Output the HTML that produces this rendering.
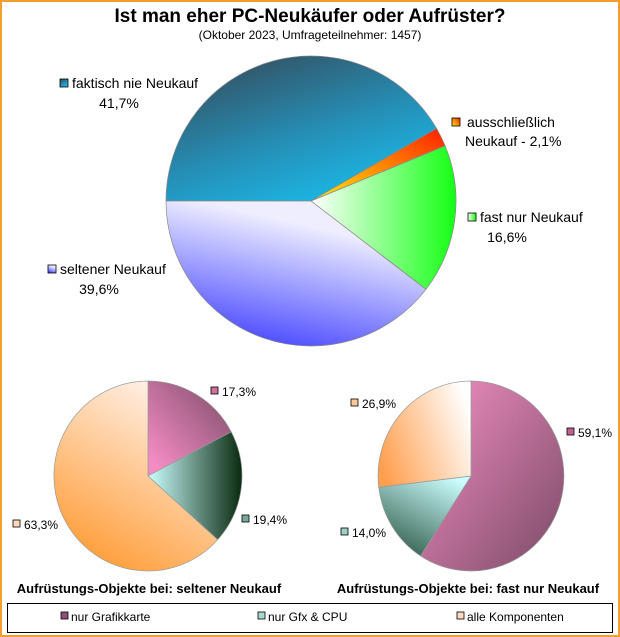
<!DOCTYPE html>
<html><head><meta charset="utf-8"><style>
html,body{margin:0;padding:0;background:#fff}
svg{display:block;font-family:"Liberation Sans",sans-serif}
</style></head><body>
<svg width="620" height="637" viewBox="0 0 620 637" xmlns="http://www.w3.org/2000/svg">
<defs>
<linearGradient id="gBlue" x1="0.2" y1="0" x2="0.8" y2="1"><stop offset="0" stop-color="#344e5e"/><stop offset="0.55" stop-color="#2590b8"/><stop offset="1" stop-color="#18c0ee"/></linearGradient>
<linearGradient id="gOr" x1="0" y1="1" x2="1" y2="0"><stop offset="0" stop-color="#ffee00"/><stop offset="1" stop-color="#ff2000"/></linearGradient>
<linearGradient id="gGr" x1="0" y1="0" x2="1" y2="0"><stop offset="0" stop-color="#ffffff"/><stop offset="1" stop-color="#14ff14"/></linearGradient>
<linearGradient id="gLav" x1="0.7" y1="0" x2="0.3" y2="1"><stop offset="0.2" stop-color="#eeeeff"/><stop offset="1" stop-color="#4444ff"/></linearGradient>
<linearGradient id="gPink" x1="0" y1="1" x2="1" y2="0"><stop offset="0.1" stop-color="#f48cc4"/><stop offset="1" stop-color="#7a4a66"/></linearGradient>
<linearGradient id="gTeal" x1="0" y1="0" x2="1" y2="0"><stop offset="0" stop-color="#ccffff"/><stop offset="1" stop-color="#0a2a10"/></linearGradient>
<linearGradient id="gPeach" x1="0.7" y1="0" x2="0.2" y2="1"><stop offset="0" stop-color="#fff4ee"/><stop offset="1" stop-color="#ff9930"/></linearGradient>
<linearGradient id="gPink2" x1="0" y1="0" x2="1" y2="1"><stop offset="0" stop-color="#f490c4"/><stop offset="1" stop-color="#7a4a66"/></linearGradient>
<linearGradient id="gTeal2" x1="0.8" y1="0" x2="0.2" y2="1"><stop offset="0" stop-color="#ccffff"/><stop offset="1" stop-color="#2e5a48"/></linearGradient>
<linearGradient id="gPeach2" x1="1" y1="0.3" x2="0" y2="0.7"><stop offset="0" stop-color="#ffffff"/><stop offset="1" stop-color="#ffa050"/></linearGradient>
</defs>
<rect x="1" y="1" width="618" height="635" fill="#fff" stroke="#f0a030" stroke-width="2"/>
<text x="310" y="22" text-anchor="middle" font-size="19" font-weight="bold">Ist man eher PC-Neukäufer oder Aufrüster?</text>
<text x="310" y="39" text-anchor="middle" font-size="12">(Oktober 2023, Umfrageteilnehmer: 1457)</text>

<g stroke="#888" stroke-width="0.7">
<path d="M311,201 L166,201 A145,145 0 0 1 436.6,128.5 Z" fill="url(#gBlue)"/>
<path d="M311,201 L436.6,128.5 A145,145 0 0 1 445.1,145.8 Z" fill="url(#gOr)"/>
<path d="M311,201 L445.1,145.8 A145,145 0 0 1 426.0,289.3 Z" fill="url(#gGr)"/>
<path d="M311,201 L426.0,289.3 A145,145 0 0 1 166,201 Z" fill="url(#gLav)"/>
</g>
<g font-size="14">
<rect x="60" y="79" width="8" height="8" fill="url(#gBlue)" stroke="#000" stroke-width="0.8"/>
<text x="72" y="88">faktisch nie Neukauf</text><text x="119" y="108" text-anchor="middle">41,7%</text>
<rect x="452" y="118" width="8" height="8" fill="url(#gOr)" stroke="#000" stroke-width="0.8"/>
<text x="467" y="127">ausschließlich</text><text x="465" y="146">Neukauf - 2,1%</text>
<rect x="468" y="213" width="8" height="8" fill="url(#gGr)" stroke="#000" stroke-width="0.8"/>
<text x="480" y="222">fast nur Neukauf</text><text x="507" y="242" text-anchor="middle">16,6%</text>
<rect x="48" y="265" width="8" height="8" fill="url(#gLav)" stroke="#000" stroke-width="0.8"/>
<text x="60" y="274">seltener Neukauf</text><text x="99" y="294" text-anchor="middle">39,6%</text>
</g>

<g stroke="#999" stroke-width="0.7">
<path d="M148,476 L148,381 A94,95 0 0 1 231.2,431.8 Z" fill="url(#gPink)"/>
<path d="M148,476 L231.2,431.8 A94,95 0 0 1 217.7,539.7 Z" fill="url(#gTeal)"/>
<path d="M148,476 L217.7,539.7 A94,95 0 1 1 148,381 Z" fill="url(#gPeach)"/>
<path d="M471,476 L471,381 A93,95 0 1 1 420.6,555.9 Z" fill="url(#gPink2)"/>
<path d="M471,476 L420.6,555.9 A93,95 0 0 1 378.7,487.3 Z" fill="url(#gTeal2)"/>
<path d="M471,476 L378.7,487.3 A93,95 0 0 1 471,381 Z" fill="url(#gPeach2)"/>
</g>
<g font-size="12">
<rect x="211" y="387" width="7" height="7" fill="#d070a0" stroke="#000" stroke-width="0.8"/><text x="222" y="396">17,3%</text>
<rect x="242" y="515" width="7" height="7" fill="#7aa8a0" stroke="#000" stroke-width="0.8"/><text x="253" y="524">19,4%</text>
<rect x="13" y="520" width="7" height="7" fill="#ffd8b8" stroke="#000" stroke-width="0.8"/><text x="24" y="529">63,3%</text>
<rect x="351" y="399" width="7" height="7" fill="#ffc89a" stroke="#000" stroke-width="0.8"/><text x="362" y="408">26,9%</text>
<rect x="567" y="428" width="7" height="7" fill="#c06090" stroke="#000" stroke-width="0.8"/><text x="578" y="437">59,1%</text>
<rect x="341" y="528" width="7" height="7" fill="#9ed0c8" stroke="#000" stroke-width="0.8"/><text x="352" y="537">14,0%</text>
</g>
<g font-size="13" font-weight="bold">
<text x="149" y="593" text-anchor="middle">Aufrüstungs-Objekte bei: seltener Neukauf</text>
<text x="468" y="593" text-anchor="middle">Aufrüstungs-Objekte bei: fast nur Neukauf</text>
</g>
<rect x="7.5" y="603.5" width="605" height="29" fill="#fff" stroke="#000" stroke-width="1"/>
<g font-size="12">
<rect x="61" y="612" width="7" height="7" fill="#905070" stroke="#000" stroke-width="0.8"/><text x="71" y="621">nur Grafikkarte</text>
<rect x="258" y="612" width="7" height="7" fill="#a8d8d0" stroke="#000" stroke-width="0.8"/><text x="268" y="621">nur Gfx &amp; CPU</text>
<rect x="457" y="612" width="7" height="7" fill="#ffd8c0" stroke="#000" stroke-width="0.8"/><text x="467" y="621">alle Komponenten</text>
</g>
</svg>
</body></html>
